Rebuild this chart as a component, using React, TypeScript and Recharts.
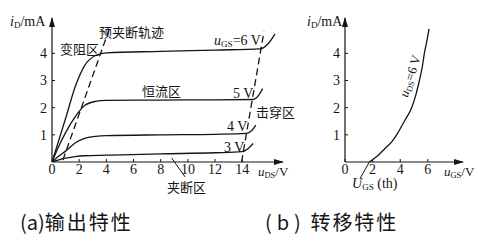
import React from "react";
import { LineChart, Line, XAxis, YAxis, ReferenceLine } from "recharts";

type Pt = [number, number];

// output characteristics (a): uDS in V, iD in mA
const outXTicks = [0, 2, 4, 6, 8, 10, 12, 14];
const outYTicks = [1, 2, 3, 4];
const gs6: Pt[] = [[0, 0], [0.5, 0.8], [1, 1.6], [1.7, 2.76], [2.4, 3.55], [3.2, 3.92], [4, 4.02], [8, 4.07], [12, 4.12], [15.3, 4.16], [15.9, 4.35], [16.4, 4.71]];
const gs5: Pt[] = [[0, 0], [0.5, 0.58], [1, 1.08], [1.7, 1.66], [2.4, 2.08], [3.2, 2.23], [4, 2.27], [8, 2.28], [12, 2.29], [14.8, 2.3], [15.2, 2.45], [15.5, 2.7]];
const gs4: Pt[] = [[0, 0], [0.5, 0.22], [1, 0.4], [1.7, 0.7], [2.4, 0.87], [3.2, 0.94], [4, 0.97], [8, 1.0], [12, 1.02], [14.3, 1.05], [14.7, 1.16], [15.0, 1.36]];
const gs3: Pt[] = [[0, 0], [0.5, 0.08], [1, 0.14], [1.7, 0.2], [2.4, 0.23], [4, 0.25], [8, 0.3], [12, 0.34], [14, 0.38], [14.4, 0.48], [14.8, 0.68]];
const pinchOff: Pt[] = [[0.8, 0.07], [4.26, 4.96]];
const breakdown: Pt[] = [[13.95, 0], [15.6, 4.8]];

// transfer characteristic (b): uGS in V, iD in mA
const trXTicks = [0, 2, 4, 6];
const trYTicks = [1, 2, 3, 4];
const transfer: Pt[] = [[1.76, 0], [2.3, 0.2], [2.9, 0.5], [3.4, 0.75], [3.74, 1.0], [4.3, 1.5], [4.83, 2.0], [5.15, 2.5], [5.39, 3.0], [5.6, 3.5], [5.75, 4.0], [5.95, 4.5], [6.09, 4.9]];

const ink = "#151515";
const serif = "'Liberation Serif', 'DejaVu Serif', serif";
const cjk = "'Noto Sans CJK SC', 'Noto Sans', sans-serif";

const rows = (pts: Pt[]) => pts.map(([x, y]) => ({ x, y }));

const tickStyle = { fill: ink, fontSize: 14, fontFamily: serif };

function Curve({ pts, dashed }: { pts: Pt[]; dashed?: boolean }) {
  return (
    <Line
      data={rows(pts)}
      dataKey="y"
      type={dashed ? "linear" : "monotone"}
      stroke={ink}
      strokeWidth={1.3}
      strokeDasharray={dashed ? "7 4" : undefined}
      dot={false}
      activeDot={false}
      isAnimationActive={false}
    />
  );
}

function Note({ x, y, size = 13, font = cjk, style, children }: any) {
  return (
    <div
      style={{
        position: "absolute",
        left: x,
        top: y,
        fontSize: size,
        fontFamily: font,
        lineHeight: 1,
        whiteSpace: "nowrap",
        color: ink,
        ...style,
      }}
    >
      {children}
    </div>
  );
}

function Sym({ v, sub, size = 14 }: { v: string; sub: string; size?: number }) {
  return (
    <span style={{ fontFamily: serif, fontSize: size }}>
      <i>{v}</i>
      <span style={{ fontSize: size * 0.65, position: "relative", top: 2 }}>{sub}</span>
    </span>
  );
}

function ArrowDefs({ id }: { id: string }) {
  return (
    <defs>
      <marker id={id} viewBox="0 0 10 6" refX="9" refY="3" markerWidth="10" markerHeight="6" markerUnits="userSpaceOnUse" orient="auto-start-reverse">
        <path d="M0,0 L10,3 L0,6 z" fill={ink} />
      </marker>
    </defs>
  );
}

function OutputChart() {
  return (
    <LineChart width={300} height={200} margin={{ top: 18, right: 17, bottom: 18, left: 22 }}>
      <ArrowDefs id="arrOut" />
      <XAxis
        type="number"
        dataKey="x"
        domain={[0, 17]}
        ticks={outXTicks}
        height={20}
        tickSize={-3}
        tickMargin={5}
        tick={tickStyle}
        tickLine={{ stroke: ink }}
        axisLine={{ stroke: ink, strokeWidth: 1.2, markerEnd: "url(#arrOut)" }}
        allowDataOverflow
      />
      <YAxis
        type="number"
        domain={[0, 5.3]}
        ticks={outYTicks}
        width={30}
        tickSize={-3}
        tickMargin={8}
        tick={tickStyle}
        tickLine={{ stroke: ink }}
        axisLine={{ stroke: ink, strokeWidth: 1.2, markerStart: "url(#arrOut)" }}
        allowDataOverflow
      />
      <Curve pts={gs6} />
      <Curve pts={gs5} />
      <Curve pts={gs4} />
      <Curve pts={gs3} />
      <Curve pts={pinchOff} dashed />
      <Curve pts={breakdown} dashed />
      <ReferenceLine
        segment={[{ x: 8.8, y: 0.15 }, { x: 9.8, y: -0.55 }]}
        stroke={ink}
        strokeWidth={1}
        ifOverflow="visible"
      />
    </LineChart>
  );
}

function TransferChart() {
  return (
    <LineChart width={190} height={200} margin={{ top: 18, right: 17, bottom: 18, left: 25 }}>
      <ArrowDefs id="arrTr" />
      <XAxis
        type="number"
        dataKey="x"
        domain={[0, 8.55]}
        ticks={trXTicks}
        height={20}
        tickSize={-3}
        tickMargin={5}
        tick={tickStyle}
        tickLine={{ stroke: ink }}
        axisLine={{ stroke: ink, strokeWidth: 1.2, markerEnd: "url(#arrTr)" }}
        allowDataOverflow
      />
      <YAxis
        type="number"
        domain={[0, 5.3]}
        ticks={trYTicks}
        width={30}
        tickSize={-3}
        tickMargin={8}
        tick={tickStyle}
        tickLine={{ stroke: ink }}
        axisLine={{ stroke: ink, strokeWidth: 1.2, markerStart: "url(#arrTr)" }}
        allowDataOverflow
      />
      <Curve pts={transfer} />
      <ReferenceLine
        segment={[{ x: 1.1, y: -0.6 }, { x: 1.76, y: 0 }]}
        stroke={ink}
        strokeWidth={1}
        ifOverflow="visible"
      />
    </LineChart>
  );
}

export default function App() {
  return (
    <div style={{ position: "absolute", left: 0, top: 0, width: 480, height: 244, background: "#fff", overflow: "hidden" }}>
      <div style={{ position: "absolute", left: 0, top: 0 }}>
        <OutputChart />
      </div>
      <div style={{ position: "absolute", left: 290, top: 0 }}>
        <TransferChart />
      </div>

      {/* (a) labels */}
      <Note x={10} y={15} font={serif} size={14}>
        <Sym v="i" sub="D" />/mA
      </Note>
      <Note x={99} y={25}>预夹断轨迹</Note>
      <Note x={60} y={42}>变阻区</Note>
      <Note x={214} y={34} font={serif} size={14}>
        <Sym v="u" sub="GS" />=6 V
      </Note>
      <Note x={142} y={84}>恒流区</Note>
      <Note x={233} y={87} font={serif} size={14}>5 V</Note>
      <Note x={256} y={105}>击穿区</Note>
      <Note x={227} y={120} font={serif} size={14}>4 V</Note>
      <Note x={224} y={141} font={serif} size={14}>3 V</Note>
      <Note x={258} y={165} font={serif} size={13}>
        <Sym v="u" sub="DS" size={13} />/V
      </Note>
      <Note x={167} y={180}>夹断区</Note>

      {/* (b) labels */}
      <Note x={307} y={15} font={serif} size={14}>
        <Sym v="i" sub="D" />/mA
      </Note>
      <Note x={410} y={76} font={serif} size={13} style={{ transform: "translate(-50%, -50%) rotate(-72deg)", transformOrigin: "center" }}>
        <Sym v="u" sub="DS" size={13} />=6 V
      </Note>
      <Note x={444} y={165} font={serif} size={13}>
        <Sym v="u" sub="GS" size={13} />/V
      </Note>
      <Note x={352} y={177} font={serif} size={14}>
        <Sym v="U" sub="GS" /> (th)
      </Note>

      {/* captions */}
      <Note x={20} y={212} size={20}>
        (a)<span style={{ letterSpacing: 2 }}>输出特性</span>
      </Note>
      <Note x={265} y={212} size={20}>
        <span style={{ letterSpacing: 5 }}>(b)</span> <span style={{ letterSpacing: 2 }}>转移特性</span>
      </Note>
    </div>
  );
}
